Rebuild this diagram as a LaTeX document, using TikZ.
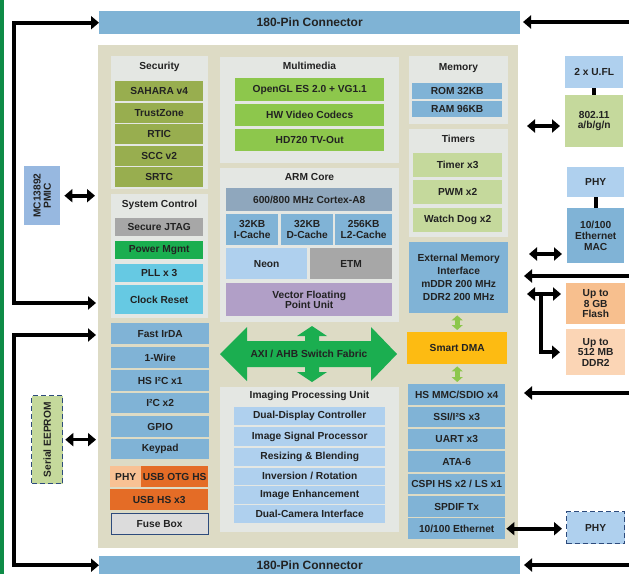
\documentclass[tikz,border=0pt]{standalone}
\usepackage{fontspec}
\setmainfont{Liberation Sans}
\usetikzlibrary{arrows.meta}

\definecolor{bggold}{HTML}{DDDBC5}
\definecolor{panelgrey}{HTML}{E4E7E3}
\definecolor{pinblue}{HTML}{7FB3D5}
\definecolor{secolive}{HTML}{98AE4F}
\definecolor{mmgreen}{HTML}{8DC74C}
\definecolor{midblue}{HTML}{80B3D6}
\definecolor{paleblue}{HTML}{AFD0EE}
\definecolor{slate}{HTML}{8FA7BD}
\definecolor{etmgrey}{HTML}{A7A7A7}
\definecolor{vfplilac}{HTML}{B19FC7}
\definecolor{pwrgreen}{HTML}{1AAE4F}
\definecolor{pllcyan}{HTML}{66C9E3}
\definecolor{timolive}{HTML}{C5D99C}
\definecolor{usborange}{HTML}{E46C26}
\definecolor{phyorange}{HTML}{F8C194}
\definecolor{flashorange}{HTML}{F7BF8E}
\definecolor{ddrpeach}{HTML}{FBD5B5}
\definecolor{dmayellow}{HTML}{FDBB12}
\definecolor{fusegrey}{HTML}{DCDCDC}
\definecolor{navy}{HTML}{2D4B7C}
\definecolor{pmicblue}{HTML}{97B8E0}
\definecolor{edgegreen}{HTML}{0E8C47}
\definecolor{axigreen}{HTML}{1BAE50}
\definecolor{txt}{HTML}{222222}

\begin{document}
\begin{tikzpicture}[x=1pt, y=-1pt,
bx/.style={anchor=north west, inner sep=0pt, align=center, text=txt, font=\bfseries\fontsize{10.2}{10.5}\selectfont},
sz/.style 2 args={minimum width=#1pt, minimum height=#2pt},
ttl/.style={inner sep=0pt, text=txt, font=\bfseries\fontsize{10.2}{11}\selectfont},
pin/.style={bx, fill=pinblue, font=\bfseries\fontsize{12}{13}\selectfont},
arr/.style={line width=3.6pt, -{Triangle[length=8pt,width=13pt]}},
darr/.style={line width=3.6pt, {Triangle[length=8pt,width=13pt]}-{Triangle[length=8pt,width=13pt]}},
garr/.style={line width=5pt, draw=mmgreen, {Triangle[length=5pt,width=11pt]}-{Triangle[length=5pt,width=11pt]}, shorten <=2pt, shorten >=2pt},
dsh/.style={draw=navy, line width=1.3pt, dash pattern=on 5pt off 3pt}]
\useasboundingbox (0,0) rectangle (629,574);
\fill[edgegreen] (0,0) rectangle (4,574);

\node[pin, sz={421}{23}] at (99,11) (top180) {180-Pin Connector};
\node[pin, sz={421}{18}] at (99,556) (bot180) {180-Pin Connector};
\node[bx, fill=bggold, sz={420}{503}] at (98,45) (soc) {};

% security
\node[bx, fill=panelgrey, sz={97}{133}] at (111,56) (secp) {};
\node[ttl] at (159.5,67) (sect) {Security};
\node[bx, fill=secolive, sz={88}{20}] at (115,81) (sahara) {SAHARA v4};
\node[bx, fill=secolive, sz={88}{20}] at (115,103) (tzone) {TrustZone};
\node[bx, fill=secolive, sz={88}{20}] at (115,124) (rtic) {RTIC};
\node[bx, fill=secolive, sz={88}{20}] at (115,146) (scc) {SCC v2};
\node[bx, fill=secolive, sz={88}{20}] at (115,167) (srtc) {SRTC};

% system control
\node[bx, fill=panelgrey, sz={97}{124}] at (111,194) (sysp) {};
\node[ttl] at (159.5,205) (syst) {System Control};
\node[bx, fill=etmgrey, sz={88}{18}] at (115,218) (jtag) {Secure JTAG};
\node[bx, fill=pwrgreen, sz={88}{18}] at (115,241) (pwr) {Power Mgmt};
\node[bx, fill=pllcyan, sz={88}{18}] at (115,264) (pll) {PLL x 3};
\node[bx, fill=pllcyan, sz={88}{29}] at (115,285) (clk) {Clock Reset};

% left peripherals
\node[bx, fill=midblue, sz={98}{21}] at (111,323) (irda) {Fast IrDA};
\node[bx, fill=midblue, sz={98}{21}] at (111,347) (wire) {1-Wire};
\node[bx, fill=midblue, sz={98}{21}] at (111,370) (hsi2c) {HS I²C x1};
\node[bx, fill=midblue, sz={98}{20}] at (111,393) (i2c) {I²C x2};
\node[bx, fill=midblue, sz={98}{21}] at (111,416) (gpio) {GPIO};
\node[bx, fill=midblue, sz={98}{20}] at (111,439) (keypad) {Keypad};
\node[bx, fill=phyorange, sz={31}{21}] at (110,466) (usbphy) {PHY};
\node[bx, fill=usborange, sz={67}{21}] at (141,466) (otg) {USB OTG HS};
\node[bx, fill=usborange, sz={98}{21}] at (110,489) (usbhs) {USB HS x3};
\node[bx, fill=fusegrey, draw=navy, line width=1.2pt, sz={97}{21}] at (110.5,512.5) (fuse) {Fuse Box};

% multimedia
\node[bx, fill=panelgrey, sz={179}{106}] at (220,57) (mmp) {};
\node[ttl] at (309.5,66) (mmt) {Multimedia};
\node[bx, fill=mmgreen, sz={149}{23}] at (235,78) (gl) {OpenGL ES 2.0 + VG1.1};
\node[bx, fill=mmgreen, sz={149}{22}] at (235,104) (codec) {HW Video Codecs};
\node[bx, fill=mmgreen, sz={149}{22}] at (235,129) (tvout) {HD720 TV-Out};

% arm core
\node[bx, fill=panelgrey, sz={179}{154}] at (220,168) (armp) {};
\node[ttl] at (309.5,177) (armt) {ARM Core};
\node[bx, fill=slate, sz={166}{23}] at (226,188) (a8) {600/800 MHz Cortex-A8};
\node[bx, fill=midblue, sz={52}{31}] at (226,214) (icache) {32KB\\I-Cache};
\node[bx, fill=midblue, sz={52}{31}] at (281,214) (dcache) {32KB\\D-Cache};
\node[bx, fill=midblue, sz={57}{31}] at (335,214) (l2) {256KB\\L2-Cache};
\node[bx, fill=paleblue, sz={81}{31}] at (226,248) (neon) {Neon};
\node[bx, fill=etmgrey, sz={82}{31}] at (310,248) (etm) {ETM};
\node[bx, fill=vfplilac, sz={166}{33}] at (226,283) (vfp) {Vector Floating\\Point Unit};

% switch fabric
\fill[axigreen] (220,354) -- (247,327) -- (247,341) -- (305,341) -- (305,336) -- (297,336)
  -- (312,326) -- (327,336) -- (319,336) -- (319,341) -- (371,341) -- (371,327) -- (397,354)
  -- (371,381) -- (371,367) -- (319,367) -- (319,372) -- (327,372) -- (312,382) -- (297,372)
  -- (305,372) -- (305,367) -- (247,367) -- (247,381) -- cycle;
\node[ttl] at (309,354) (axi) {AXI / AHB Switch Fabric};

% imaging
\node[bx, fill=panelgrey, sz={179}{145}] at (220,387) (ipup) {};
\node[ttl] at (309.5,396) (iput) {Imaging Processing Unit};
\node[bx, fill=paleblue, sz={151}{18}] at (234,407) (ddc) {Dual-Display Controller};
\node[bx, fill=paleblue, sz={151}{19}] at (234,427) (isp) {Image Signal Processor};
\node[bx, fill=paleblue, sz={151}{18}] at (234,447.5) (blend) {Resizing \& Blending};
\node[bx, fill=paleblue, sz={151}{17}] at (234,467.5) (rot) {Inversion / Rotation};
\node[bx, fill=paleblue, sz={151}{18}] at (234,486) (enh) {Image Enhancement};
\node[bx, fill=paleblue, sz={151}{18}] at (234,505) (cam) {Dual-Camera Interface};

% memory, timers
\node[bx, fill=panelgrey, sz={99}{68}] at (409,56) (memp) {};
\node[ttl] at (458.5,68) (memt) {Memory};
\node[bx, fill=midblue, sz={90}{16}] at (412,83) (rom) {ROM 32KB};
\node[bx, fill=midblue, sz={90}{16}] at (412,101) (ram) {RAM 96KB};
\node[bx, fill=panelgrey, sz={99}{108}] at (409,129) (timp) {};
\node[ttl] at (458.5,139) (timt) {Timers};
\node[bx, fill=timolive, sz={89}{24}] at (413,153) (tim) {Timer x3};
\node[bx, fill=timolive, sz={89}{24}] at (413,180) (pwm) {PWM x2};
\node[bx, fill=timolive, sz={89}{24}] at (413,208) (wdog) {Watch Dog x2};

\node[bx, fill=midblue, sz={99}{71}, font=\bfseries\fontsize{10.2}{13}\selectfont] at (409,242) (emi) {External Memory\\Interface\\mDDR 200 MHz\\DDR2 200 MHz};
\node[bx, fill=dmayellow, sz={100}{32}] at (407,332) (dma) {Smart DMA};

% right peripherals
\node[bx, fill=midblue, sz={97}{21}] at (408,384) (mmc) {HS MMC/SDIO x4};
\node[bx, fill=midblue, sz={97}{20}] at (408,407) (ssi) {SSI/I²S x3};
\node[bx, fill=midblue, sz={97}{20}] at (408,429) (uart) {UART x3};
\node[bx, fill=midblue, sz={97}{21}] at (408,451) (ata) {ATA-6};
\node[bx, fill=midblue, sz={97}{20}] at (408,474) (cspi) {CSPI HS x2 / LS x1};
\node[bx, fill=midblue, sz={97}{21}] at (408,496) (spdif) {SPDIF Tx};
\node[bx, fill=midblue, sz={97}{21}] at (408,518) (eth) {10/100 Ethernet};

\draw[garr] (dma.north |- emi.south) -- (dma.north);
\draw[garr] (dma.south) -- (dma.south |- mmc.north);

% outside the chip
\node[bx, fill=pmicblue, sz={36}{59}] at (24,166) (pmic) {\rotatebox{90}{\shortstack{MC13892\\PMIC}}};
\node[bx, fill=timolive, dsh, sz={31}{88}] at (31,395) (eeprom) {\rotatebox{90}{Serial EEPROM}};
\node[bx, fill=paleblue, sz={58}{32}] at (565,56) (ufl) {2 x U.FL};
\node[bx, fill=timolive, sz={58}{52}] at (565,95) (wifi) {802.11\\a/b/g/n};
\node[bx, fill=paleblue, sz={57}{30}] at (567,167) (phya) {PHY};
\node[bx, fill=midblue, sz={57}{55}, font=\bfseries\fontsize{10.2}{11}\selectfont] at (567,208) (mac) {10/100\\Ethernet\\MAC};
\node[bx, fill=flashorange, sz={59}{41}] at (566,283) (flash) {Up to\\8 GB\\Flash};
\node[bx, fill=ddrpeach, sz={59}{46}] at (566,329) (ddr) {Up to\\512 MB\\DDR2};
\node[bx, fill=paleblue, dsh, sz={58}{32}] at (566,511) (phyb) {PHY};

\coordinate (clkin) at (96,303);
\coordinate (irdain) at (96,335);
\draw[darr] (top180.west) -- ++(-85,0) |- (clkin);
\draw[darr] (irdain) -- ++(-82,0) |- (bot180.west);
\draw[darr, shorten <=4pt, shorten >=3pt] (pmic.east) -- (pmic.east -| soc.west);
\draw[darr, shorten <=2pt, shorten >=2pt] (eeprom.east) -- (eeprom.east -| soc.west);

\draw[line width=4pt] (ufl.south) -- (wifi.north);
\draw[line width=4pt] (phya.south) -- (mac.north);

\coordinate (e1) at (629,22);
\coordinate (e2) at (629,276);
\coordinate (c2) at (524,276);
\coordinate (e3) at (629,393);
\coordinate (c3) at (524,393);
\coordinate (e4) at (629,565);
\coordinate (c4) at (524,565);
\coordinate (w1) at (527,126);
\coordinate (m1) at (529,254);
\coordinate (f1) at (527,294);
\coordinate (f2) at (541,294);
\coordinate (c1) at (523,22);
\draw[arr] (e1) -- (c1);
\draw[arr] (e2) -- (c2);
\draw[arr] (e3) -- (c3);
\draw[arr] (e4) -- (c4);
\draw[darr, shorten >=5pt] (w1) -- (w1 -| wifi.west);
\draw[darr, shorten >=5pt] (m1) -- (m1 -| mac.west);
\draw[darr, shorten >=5pt] (f1) -- (f1 -| flash.west);
\draw[arr, shorten >=6pt] (f2) |- (ddr.west);
\draw[darr, shorten <=1pt, shorten >=4pt] (eth.east) -- (eth.east -| phyb.west);
\end{tikzpicture}
\end{document}
